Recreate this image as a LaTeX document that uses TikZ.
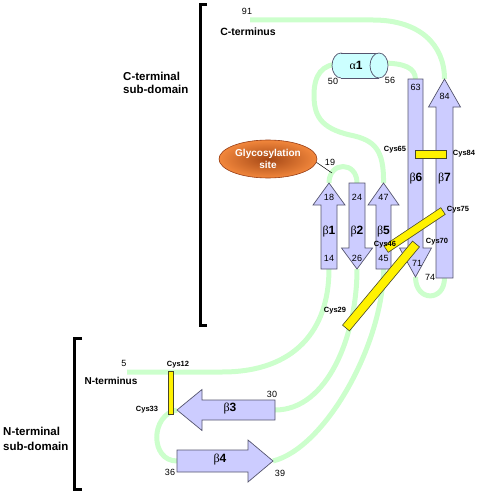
\documentclass[tikz,border=0pt]{standalone}
\usepackage{fontspec}
\setmainfont{Liberation Sans}
\newfontfamily\grk{Liberation Serif}
\usetikzlibrary{calc,shapes.geometric,backgrounds}
\definecolor{loopgreen}{RGB}{204,255,204}
\definecolor{strandfill}{RGB}{204,204,255}
\definecolor{strandline}{RGB}{85,85,110}
\definecolor{barline}{RGB}{70,70,40}
\definecolor{helixfill}{RGB}{204,255,255}
\definecolor{glyin}{RGB}{165,72,22}
\definecolor{glyout}{RGB}{242,135,60}
\definecolor{glyline}{RGB}{150,60,20}
\newcommand\myfs[1]{\fontsize{#1}{#1}\selectfont}
% name, x, end y, tip y, head base y, body half width, head half width
\newcommand\vstrand[7]{%
  \draw[strand] (#2-#6,#3) -- (#2-#6,#5) -- (#2-#7,#5) -- (#2,#4) -- (#2+#7,#5) -- (#2+#6,#5) -- (#2+#6,#3) -- cycle;
  \coordinate (#1s) at (#2,#3); \coordinate (#1e) at (#2,#4);}
% name, y, end x, tip x, head base x, body half height, head half height
\newcommand\hstrand[7]{%
  \draw[strand] (#3,#2-#6) -- (#5,#2-#6) -- (#5,#2-#7) -- (#4,#2) -- (#5,#2+#7) -- (#5,#2+#6) -- (#3,#2+#6) -- cycle;
  \coordinate (#1s) at (#3,#2); \coordinate (#1e) at (#4,#2);}
\begin{document}
\begin{tikzpicture}[x=1pt,y=-1pt,
  loopline/.style={draw=loopgreen, line width=5pt},
  strand/.style={fill=strandfill, draw=strandline, line width=0.7pt},
  ssbar/.style={fill=yellow, draw=barline, line width=0.6pt},
  bracketline/.style={draw=black, line width=3pt},
  numlab/.style={font=\myfs{9}, inner sep=0pt},
  cyslab/.style={font=\bfseries\myfs{7.5}, inner sep=0pt},
  sslab/.style={font=\myfs{12}, inner sep=0pt},
  domlabel/.style={font=\bfseries\fontsize{11.5}{13}\selectfont, align=left, inner sep=0pt, anchor=west},
  termlab/.style={font=\bfseries\myfs{10.5}, inner sep=0pt}]
\useasboundingbox (0,0) rectangle (478,495);

% brackets
\draw[bracketline] (207,4.5) -- (200,4.5) -- (200,325.5) -- (207,325.5);
\draw[bracketline] (82,338) -- (74.5,338) -- (74.5,489) -- (82,489);

\node[domlabel] (cdom) at (123,82.5) {C-terminal\\sub-domain};
\node[domlabel, font=\bfseries\fontsize{11.5}{15}\selectfont] (ndom) at (3,438.5) {N-terminal\\sub-domain};

% strands
\vstrand{b1}{329}{269}{183}{205}{8}{16}
\vstrand{b2}{357}{183}{269}{248}{8}{15.5}
\vstrand{b5}{383.5}{269}{183}{205}{7.5}{15.5}
\vstrand{b6}{415.5}{79}{277}{248}{7.5}{16}
\vstrand{b7}{444.5}{278}{79}{107}{8.5}{16}
\hstrand{b3}{410}{275}{177}{202}{10}{20.5}
\hstrand{b4}{461}{177}{273}{248}{11}{21}

% helix alpha1 (cylinder)
\coordinate (a1w) at (340,64);
\coordinate (a1e) at (381,63);
\filldraw[fill=helixfill, draw=strandline, line width=0.7pt] (341,65.5) ellipse [x radius=9, y radius=12.5];
\fill[helixfill] (341,53) rectangle (379,78);
\draw[strandline, line width=0.7pt] (341,53) -- (379,53) (341,78) -- (379,78);
\filldraw[fill=helixfill, draw=strandline, line width=0.7pt] (379,65.5) ellipse [x radius=9, y radius=12.5];

% terminus points
\coordinate (nt) at (127,372);
\coordinate (ct) at (250,20);
\coordinate (g19) at (332,173);

% loops
\begin{pgfonlayer}{background}
\draw[loopline] (nt) -- (222,372) .. controls (295,372) and (329,330) .. (b1s);
\draw[loopline] (b1e) .. controls (329,161) and (357,161) .. (b2s);
\draw[loopline] (b2e) .. controls (357,335) and (328,410) .. (b3s);
\draw[loopline] (b3e) .. controls (150,415) and (150,461) .. (b4s);
\draw[loopline] (b4e) .. controls (325,448) and (383,345) .. (b5s);
\draw[loopline] (b5e) .. controls (384,150) and (375,140) .. (350,135)
   .. controls (320,128) and (314,115) .. (314,95)
   .. controls (314,75) and (322,64) .. (a1w);
\draw[loopline] (a1e) .. controls (405,63) and (415,68) .. (b6s);
\draw[loopline] (b6e) .. controls (415.5,302) and (444.5,302) .. (b7s);
\draw[loopline] (b7e) .. controls (444.5,45) and (420,20) .. (373,20) -- (ct);
\end{pgfonlayer}

% glycosylation site
\node[ellipse, minimum width=98pt, minimum height=38pt, inner sep=0pt,
  shading=radial, inner color=glyin, outer color=glyout, draw=glyline, line width=0.6pt,
  font=\bfseries\fontsize{10}{11.5}\selectfont, text=white, align=center] (glyco) at (268,159) {Glycosylation\\site};
\draw[black, line width=0.5pt] (glyco.-4) -- (g19);
\node[numlab] (n19) at (330,162) {19};

% labels
\node[termlab] (cterm) at (248,32) {C-terminus};
\node[termlab, font=\bfseries\myfs{10}] (nterm) at (111,381) {N-terminus};
\node[numlab] (n91) at (247,11) {91};
\node[numlab] (n5) at (124,363) {5};

\node[numlab] (n18) at (329,197) {18};
\node[sslab] (lb1) at (329,232) {{\grk β}\textbf{1}};
\node[numlab] (n14) at (329,258) {14};
\node[numlab] (n24) at (357,197) {24};
\node[sslab] (lb2) at (357,232) {{\grk β}\textbf{2}};
\node[numlab] (n26) at (357,258) {26};
\node[numlab] (n47) at (383.5,197) {47};
\node[sslab] (lb5) at (383.5,232) {{\grk β}\textbf{5}};
\node[numlab] (n45) at (383.5,258) {45};
\node[numlab] (n63) at (415.5,87) {63};
\node[sslab] (lb6) at (416,179) {{\grk β}\textbf{6}};
\node[numlab] (n71) at (417,263) {71};
\node[numlab] (n84) at (444.5,96) {84};
\node[sslab] (lb7) at (444.5,179) {{\grk β}\textbf{7}};
\node[numlab] (n74) at (430,277) {74};
\node[sslab] (la1) at (356,65) {{\grk α}\textbf{1}};
\node[numlab] (n50) at (333,81) {50};
\node[numlab] (n56) at (390,80) {56};
\node[sslab] (lb3) at (230,409) {{\grk β}\textbf{3}};
\node[numlab] (n30) at (272,394) {30};
\node[sslab] (lb4) at (220,460) {{\grk β}\textbf{4}};
\node[numlab] (n36) at (170,472) {36};
\node[numlab] (n39) at (280,473) {39};

% disulfide bridges
\coordinate (c46) at (386,249); \coordinate (c75) at (443,211);
\coordinate (c29) at (346,328); \coordinate (c70) at (416,244);
\draw[ssbar] ($(c46)!4pt!90:(c75)$) -- ($(c75)!4pt!-90:(c46)$) -- ($(c75)!4pt!90:(c46)$) -- ($(c46)!4pt!-90:(c75)$) -- cycle;
\draw[ssbar] ($(c29)!4.5pt!90:(c70)$) -- ($(c70)!4.5pt!-90:(c29)$) -- ($(c70)!4.5pt!90:(c29)$) -- ($(c29)!4.5pt!-90:(c70)$) -- cycle;
\draw[ssbar] (415,150) rectangle (446,158);
\draw[ssbar] (168,371) rectangle (173,414);

\node[cyslab] (l46) at (385,245) {Cys46};
\node[cyslab] (l75) at (458,210) {Cys75};
\node[cyslab] (l70) at (437,242) {Cys70};
\node[cyslab] (l29) at (335,311) {Cys29};
\node[cyslab] (l65) at (395,150) {Cys65};
\node[cyslab] (l84) at (464,154) {Cys84};
\node[cyslab] (l12) at (178,365) {Cys12};
\node[cyslab] (l33) at (147,410) {Cys33};
\end{tikzpicture}
\end{document}
